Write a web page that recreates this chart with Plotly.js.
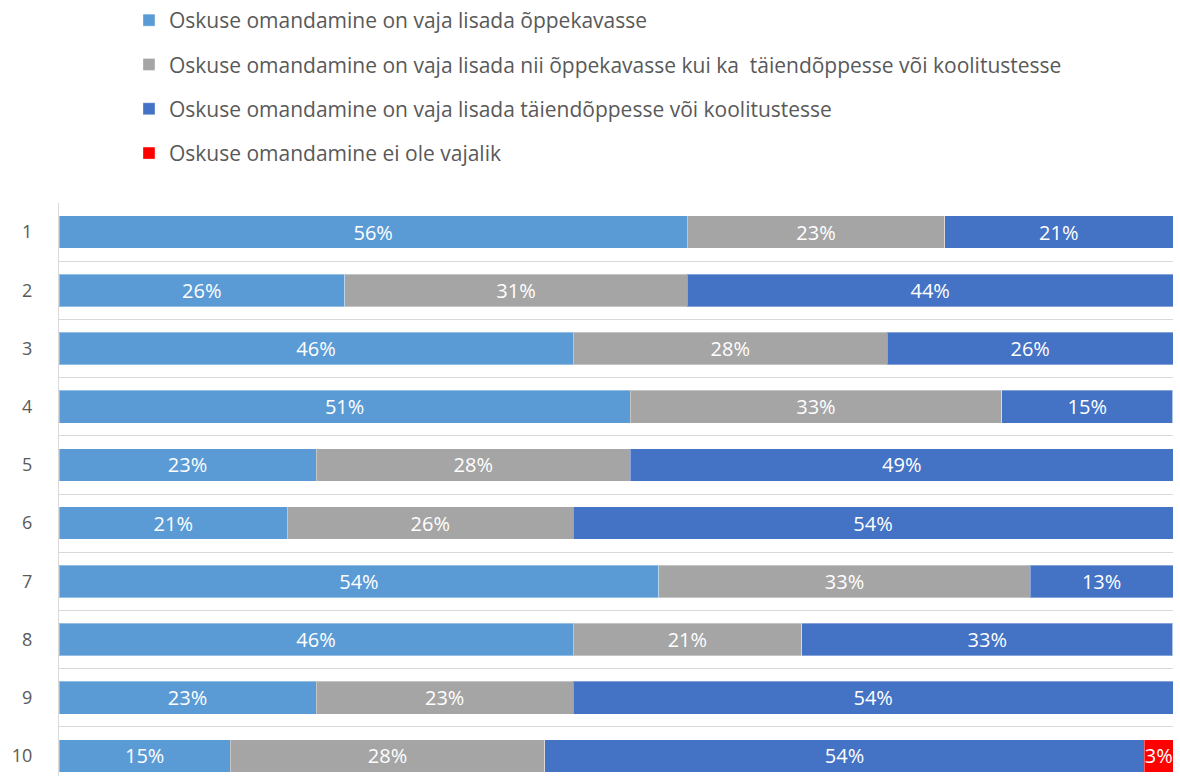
<!DOCTYPE html>
<html>
<head>
<meta charset="utf-8">
<script src="https://cdn.plot.ly/plotly-3.0.1.min.js"></script>
<style>html,body{margin:0;padding:0;background:#fff;}#chart{width:1180px;height:776px;}</style>
</head>
<body>
<div id="chart"></div>
<script>
const categories = [1, 2, 3, 4, 5, 6, 7, 8, 9, 10];
const tickLabels = ["1", "2", "3", "4", "5", "6", "7", "8", "9", "10"];
const seriesNames = [
  "Oskuse omandamine on vaja lisada õppekavasse",
  "Oskuse omandamine on vaja lisada nii õppekavasse kui ka&nbsp; täiendõppesse või koolitustesse",
  "Oskuse omandamine on vaja lisada täiendõppesse või koolitustesse",
  "Oskuse omandamine ei ole vajalik"
];
const seriesColors = ["#5B9BD5", "#A5A5A5", "#4472C4", "#FF0000"];
const curriculum = [56.41, 25.64, 46.15, 51.28, 23.08, 20.51, 53.85, 46.15, 23.08, 15.38];
const both       = [23.08, 30.77, 28.21, 33.33, 28.21, 25.64, 33.33, 20.51, 23.08, 28.21];
const training   = [20.51, 43.59, 25.64, 15.38, 48.72, 53.85, 12.82, 33.33, 53.85, 53.85];
const notNeeded  = [0, 0, 0, 0, 0, 0, 0, 0, 0, 2.56];
const seriesValues = [curriculum, both, training, notNeeded];

const traces = seriesValues.map((vals, i) => ({
  type: 'bar',
  orientation: 'h',
  name: seriesNames[i],
  legendgroup: 'g' + i,
  x: vals,
  y: categories,
  width: 0.56,
  marker: {color: seriesColors[i], line: {color: 'rgba(255,255,255,0.35)', width: 1}},
  text: vals.map(v => v > 0 ? Math.round(v) + '%' : ''),
  textposition: 'inside',
  insidetextanchor: 'middle',
  textangle: 0,
  constraintext: 'none',
  textfont: {color: '#ffffff', size: 20, family: '"Open Sans", sans-serif'},
  hoverinfo: 'name+x'
}));

const layout = {
  width: 1180, height: 776,
  margin: {l: 59, r: 7, t: 203, b: 0, pad: 0, autoexpand: false},
  paper_bgcolor: '#ffffff', plot_bgcolor: '#ffffff',
  barmode: 'stack',
  font: {family: '"Open Sans", sans-serif', color: '#595959', size: 18},
  showlegend: true,
  legend: {
    xref: 'container', yref: 'container',
    x: 0.1093, y: 1.0, xanchor: 'left', yanchor: 'top',
    traceorder: 'grouped', tracegroupgap: 14,
    font: {size: 21, color: '#595959', family: '"Open Sans", sans-serif'},
    bgcolor: 'rgba(0,0,0,0)'
  },
  xaxis: {range: [0, 100], showgrid: false, zeroline: false, showticklabels: false, showline: false, fixedrange: true},
  yaxis: {
    range: [10.345, 0.5], tickmode: 'array', tickvals: categories, ticktext: tickLabels,
    showgrid: false, zeroline: false, showline: true, linecolor: '#d9d9d9', linewidth: 1,
    ticks: '', ticklabelstandoff: 22, tickfont: {size: 18, color: '#595959'},
    minor: {tick0: 0.5, dtick: 1, showgrid: true, gridcolor: '#d9d9d9', gridwidth: 1, ticks: ''}
  }
};

Plotly.newPlot('chart', traces, layout, {displayModeBar: false, staticPlot: true});
</script>
</body>
</html>
